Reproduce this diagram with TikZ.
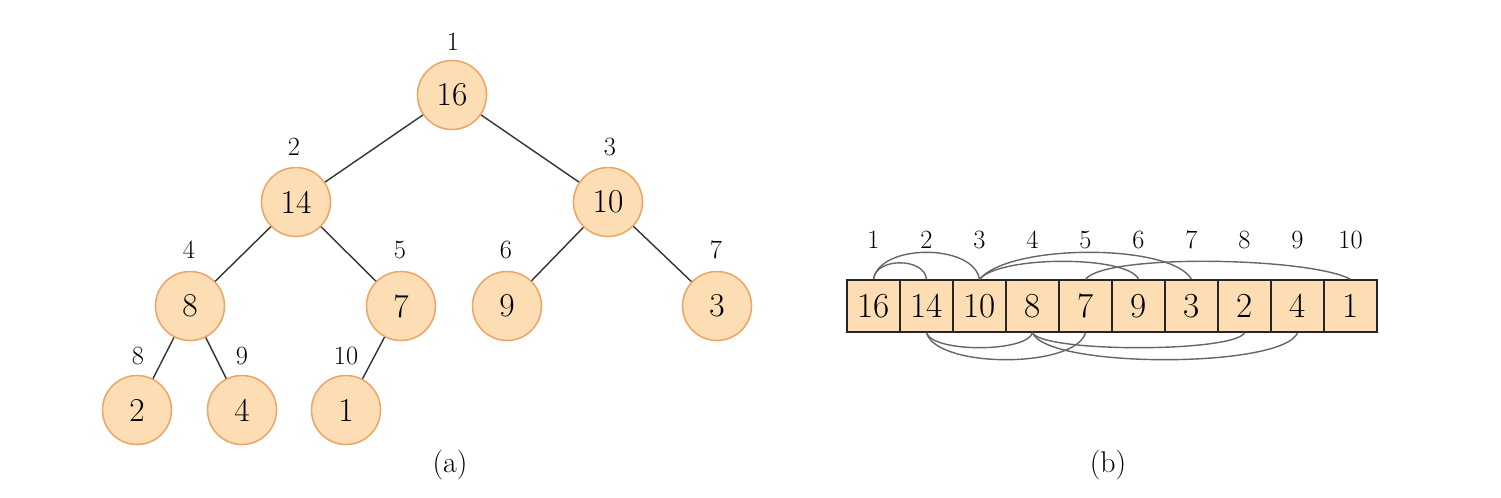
\documentclass[tikz,border=0pt]{standalone}
\usepackage{tikz}
\usetikzlibrary{arrows.meta,positioning}
\definecolor{hpfill}{RGB}{253,222,180}
\definecolor{hpline}{RGB}{236,166,104}
\tikzset{
  nd/.style={circle,draw=hpline,fill=hpfill,line width=0.9pt,minimum size=1.38cm,inner sep=0pt,font=\fontsize{19}{21}\selectfont},
  ix/.style={inner sep=1pt,font=\fontsize{15}{17}\selectfont},
  cl/.style={draw=black!85,fill=hpfill,line width=0.8pt,minimum width=1.06cm,minimum height=1.04cm,inner sep=0pt,font=\fontsize{20}{22}\selectfont},
  ed/.style={black!80,line width=0.8pt},
  lk/.style={black!60,line width=0.8pt},
}
\begin{document}
\begin{tikzpicture}[x=0.02cm,y=-0.02cm]
  \useasboundingbox (0,0) rectangle (1501,497);

  % (a) the heap as a tree
  \node[nd] (t1) at (452,95) {16};
  \node[nd] (t2) at (296,202) {14};
  \node[nd] (t3) at (608,202) {10};
  \node[nd] (t4) at (190,306) {8};
  \node[nd] (t5) at (401,306) {7};
  \node[nd] (t6) at (507,306) {9};
  \node[nd] (t7) at (717,306) {3};
  \node[nd] (t8) at (137,410) {2};
  \node[nd] (t9) at (242,410) {4};
  \node[nd] (t10) at (346,410) {1};

  \node[ix] (i1) at (453,42) {1};
  \node[ix] (i2) at (294,147) {2};
  \node[ix] (i3) at (610,147) {3};
  \node[ix] (i4) at (189,250) {4};
  \node[ix] (i5) at (400,250) {5};
  \node[ix] (i6) at (506,250) {6};
  \node[ix] (i7) at (716,250) {7};
  \node[ix] (i8) at (138,356) {8};
  \node[ix] (i9) at (242,356) {9};
  \node[ix] (i10) at (346,356) {10};

  \draw[ed] (t1) -- (t2);
  \draw[ed] (t1) -- (t3);
  \draw[ed] (t2) -- (t4);
  \draw[ed] (t2) -- (t5);
  \draw[ed] (t3) -- (t6);
  \draw[ed] (t3) -- (t7);
  \draw[ed] (t4) -- (t8);
  \draw[ed] (t4) -- (t9);
  \draw[ed] (t5) -- (t10);

  \node[ix,font=\fontsize{17}{19}\selectfont] (capa) at (450,465) {(a)};

  % (b) the heap as an array
  \node[cl] (c1) at (873.5,306) {16};
  \node[cl] (c2) at (926.5,306) {14};
  \node[cl] (c3) at (979.5,306) {10};
  \node[cl] (c4) at (1032.5,306) {8};
  \node[cl] (c5) at (1085.5,306) {7};
  \node[cl] (c6) at (1138.5,306) {9};
  \node[cl] (c7) at (1191.5,306) {3};
  \node[cl] (c8) at (1244.5,306) {2};
  \node[cl] (c9) at (1297.5,306) {4};
  \node[cl] (c10) at (1350.5,306) {1};

  \node[ix] (a1) at (873.5,240) {1};
  \node[ix] (a2) at (926.5,240) {2};
  \node[ix] (a3) at (979.5,240) {3};
  \node[ix] (a4) at (1032.5,240) {4};
  \node[ix] (a5) at (1085.5,240) {5};
  \node[ix] (a6) at (1138.5,240) {6};
  \node[ix] (a7) at (1191.5,240) {7};
  \node[ix] (a8) at (1244.5,240) {8};
  \node[ix] (a9) at (1297.5,240) {9};
  \node[ix] (a10) at (1350.5,240) {10};

  % parent-child links, above and below the cells
  \draw[lk] (c1.north) .. controls +(2,-22) and +(-2,-22) .. (c2.north);
  \draw[lk] (c1.north) .. controls +(6,-36) and +(-6,-36) .. (c3.north);
  \draw[lk] (c3.north) .. controls +(20,-24) and +(-10,-24) .. (c6.north);
  \draw[lk] (c3.north) .. controls +(30,-36) and +(-20,-36) .. (c7.north);
  \draw[lk] (c5.north) .. controls +(20,-26) and +(-40,-22) .. (c10.north);
  \draw[lk] (c2.south) .. controls +(6,20) and +(-6,20) .. (c4.south);
  \draw[lk] (c2.south) .. controls +(10,36) and +(-10,36) .. (c5.south);
  \draw[lk] (c4.south) .. controls +(10,20) and +(-10,20) .. (c8.south);
  \draw[lk] (c4.south) .. controls +(14,36) and +(-14,36) .. (c9.south);

  \node[ix,font=\fontsize{17}{19}\selectfont] (capb) at (1108,465) {(b)};
\end{tikzpicture}
\end{document}
